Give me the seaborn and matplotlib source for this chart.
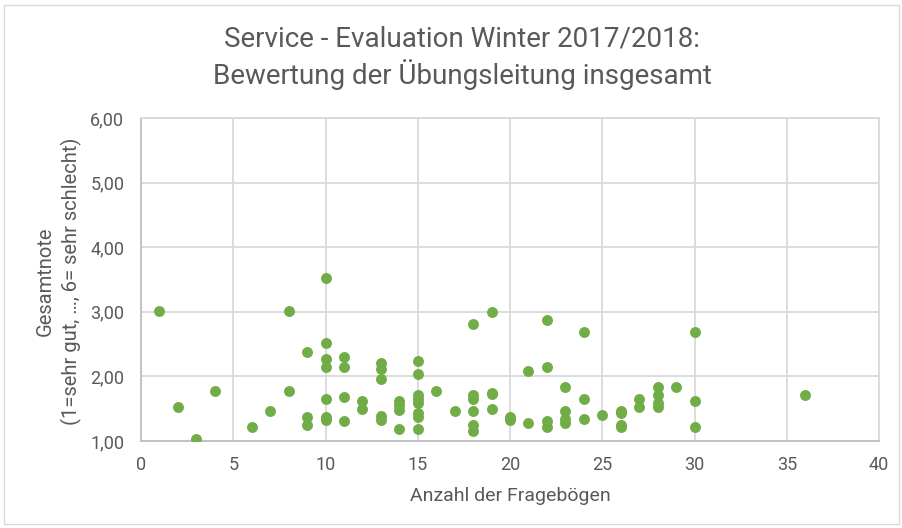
import matplotlib
matplotlib.use("Agg")
import matplotlib.pyplot as plt
import seaborn as sns
import pandas as pd
from matplotlib.patches import Rectangle
from matplotlib.ticker import FuncFormatter

# number of questionnaires per course and the overall grade
fragebogen = [1, 2, 3, 4, 6, 7, 8, 8,
              9, 9, 9,
              10, 10, 10, 10, 10, 10, 10,
              11, 11, 11, 11,
              12, 12,
              13, 13, 13, 13, 13,
              14, 14, 14, 14,
              15, 15, 15, 15, 15, 15, 15, 15,
              16, 17,
              18, 18, 18, 18, 18, 18,
              19, 19, 19, 19,
              20, 20,
              21, 21,
              22, 22, 22, 22,
              23, 23, 23, 23,
              24, 24, 24,
              25,
              26, 26, 26, 26,
              27, 27,
              28, 28, 28, 28,
              29,
              30, 30, 30,
              36]
gesamtnote = [3.02, 1.53, 1.03, 1.78, 1.22, 1.46, 3.02, 1.78,
              2.37, 1.37, 1.25,
              3.52, 2.52, 2.27, 2.15, 1.65, 1.37, 1.33,
              2.30, 2.15, 1.68, 1.31,
              1.62, 1.50,
              2.21, 2.12, 1.96, 1.38, 1.33,
              1.62, 1.55, 1.48, 1.18,
              2.24, 2.03, 1.71, 1.65, 1.59, 1.44, 1.37, 1.18,
              1.78, 1.46,
              2.81, 1.71, 1.65, 1.46, 1.25, 1.15,
              2.99, 1.75, 1.72, 1.50,
              1.37, 1.33,
              2.09, 1.28,
              2.87, 2.15, 1.31, 1.22,
              1.84, 1.47, 1.34, 1.28,
              2.68, 1.65, 1.34,
              1.41,
              1.47, 1.44, 1.25, 1.22,
              1.65, 1.53,
              1.84, 1.71, 1.59, 1.53,
              1.84,
              2.68, 1.62, 1.22,
              1.71]

x_ticks = [0, 5, 10, 15, 20, 25, 30, 35, 40]
y_ticks = [1, 2, 3, 4, 5, 6]

df = pd.DataFrame({"Fragebogen": fragebogen, "Gesamtnote": gesamtnote})

sns.set_style("white")
plt.rcParams["font.family"] = ["Roboto", "DejaVu Sans"]
grey = "#595959"

fig = plt.figure(figsize=(9.03, 5.28), dpi=100)
ax = fig.add_axes([141 / 903, 1 - 441 / 528, (879 - 141) / 903, (441 - 118) / 528])

sns.scatterplot(data=df, x="Fragebogen", y="Gesamtnote", ax=ax,
                color="#70AD47", s=62, linewidth=0, zorder=3)

ax.set_xlim(0, 40)
ax.set_ylim(1, 6)
ax.set_xticks(x_ticks)
ax.set_yticks(y_ticks)
ax.yaxis.set_major_formatter(FuncFormatter(lambda v, p: f"{v:.2f}".replace(".", ",")))
ax.grid(True, color="#D9D9D9", linewidth=1.3)
ax.set_axisbelow(True)
for side, sp in ax.spines.items():
    sp.set_color("#D9D9D9")
    sp.set_linewidth(1.3)
ax.spines["left"].set_color("#BFBFBF")
ax.spines["bottom"].set_color("#BFBFBF")
ax.tick_params(axis="both", length=0, labelsize=13, labelcolor=grey)
ax.tick_params(axis="x", pad=11)
ax.tick_params(axis="y", pad=12)

ax.set_xlabel("")
ax.set_ylabel("")
fig.text(510 / 903, 1 - 496 / 528, "Anzahl der Fragebögen", ha="center", va="center",
         fontsize=14, color=grey)
fig.text(59 / 903, 1 - 281 / 528, "Gesamtnote\n(1=sehr gut, …, 6= sehr schlecht)",
         ha="center", va="center", rotation=90, fontsize=14.5, color=grey,
         linespacing=1.35)

fig.text(462 / 903, 1 - 58 / 528,
         "Service - Evaluation Winter 2017/2018:\nBewertung der Übungsleitung insgesamt",
         ha="center", va="center", fontsize=20, color=grey, linespacing=1.25)

# chart area border
fig.patches.append(Rectangle((4 / 903, 4 / 528), 895 / 903, 519 / 528,
                             transform=fig.transFigure, fill=False,
                             edgecolor="#D9D9D9", linewidth=1))

fig.savefig("out.png", dpi=100)
